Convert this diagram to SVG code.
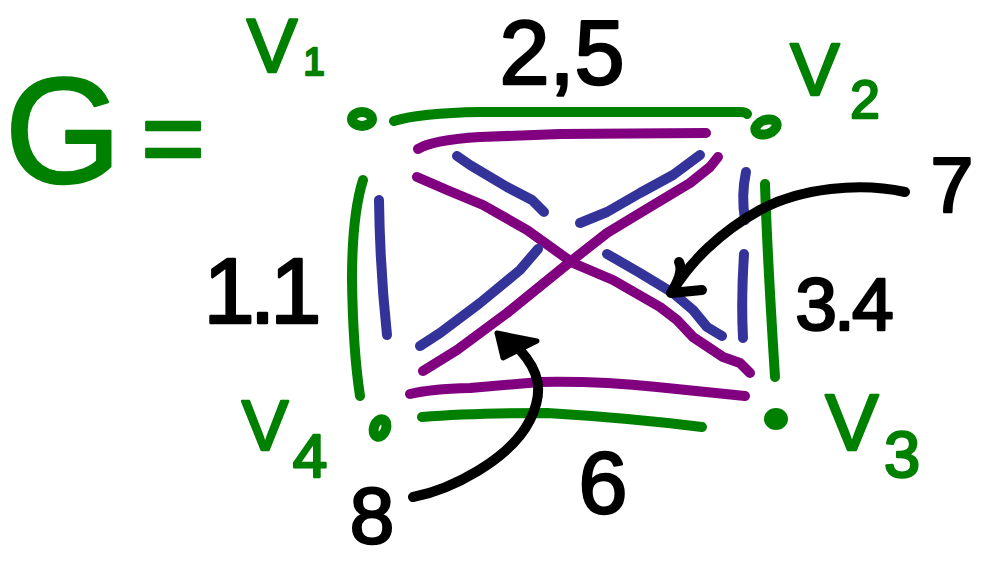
<svg xmlns="http://www.w3.org/2000/svg" width="986" height="561" viewBox="0 0 986 561">
<style>
.s{fill:none;stroke-width:10;stroke-linecap:round;stroke-linejoin:round}
.g{stroke:#008000}
.p{stroke:#800080}
.b{stroke:#333399}
.k{stroke:#000}
.t{font-family:"Liberation Sans",Arial,sans-serif;stroke-width:2.5;stroke-linejoin:round;text-anchor:middle}
.tg{fill:#008000;stroke:#008000}
.tk{fill:#000;stroke:#000}
</style>
<rect width="986" height="561" fill="#fff"/>
<g id="title">
<text class="t tg" x="63" y="183" font-size="150">G</text>
<text class="t tg" x="173" y="175" font-size="110">=</text>
</g>
<g id="connectors">
<path class="s g" d="M394,121 Q420,113 480,112 L740,112 Q746,112 747,114"/>
<path class="s p" d="M418,149 Q432,140 480,137 L560,134 L706,133"/>
<path class="s p" d="M410,394 Q430,389 470,388 L540,382 Q600,381 657,387 L745,396"/>
<path class="s g" d="M422,417 Q470,413 547,413 Q630,418 702,427"/>
<path class="s g" d="M363,180 Q352,215 352,280 Q353,350 360,396"/>
<path class="s b" d="M379,200 Q380,270 387,335"/>
<path class="s g" d="M765,184 Q767,250 775,377"/>
<path class="s b" d="M746,172 Q741,195 745,220"/>
<path class="s b" d="M744,254 Q741,300 743,338"/>
<polyline class="s p" points="417,177 447,190 483,205 527,230 573,263 613,280 660,307 677,320 693,337 723,357 740,363 750,373"/>
<polyline class="s b" points="457,156 470,165 507,187 532,200 544,212"/>
<polyline class="s b" points="607,254 640,273 673,293 693,310 707,327 722,336"/>
<polyline class="s p" points="423,371 457,350 507,313 570,262 607,233 640,213 690,183 710,167 718,157"/>
<polyline class="s b" points="420,346 440,333 480,303 520,270 538,249"/>
<polyline class="s b" points="580,223 607,212 640,193 673,175 700,155"/>
</g>
<g id="edge-labels">
<text class="t tk" x="562" y="84" font-size="90">2,5</text>
<text class="t tk" x="260" y="323" font-size="92" letter-spacing="-5">1.1</text>
<text class="t tk" x="843" y="330" font-size="75" letter-spacing="-3">3.4</text>
<text class="t tk" x="603" y="513" font-size="88">6</text>
</g>
<g id="annotation-7">
<path class="s k" d="M905,192 C860,182 800,188 760,210 C720,232 690,262 672,292"/>
<path class="s k" d="M679,262 Q684,272 671,293 L702,290"/>
<text class="t tk" x="952" y="212" font-size="77">7</text>
</g>
<g id="annotation-8">
<path class="s k" d="M413,497 C450,490 510,460 530,420 C545,390 538,370 520,350"/>
<polygon points="497,333 537,341 503,358" fill="#000" stroke="#000" stroke-width="5" stroke-linejoin="round"/>
<text class="t tk" x="372" y="543" font-size="80">8</text>
</g>
<g id="v1">
<ellipse class="s g" cx="362" cy="119" rx="10" ry="7"/>
<text class="t tg" x="272" y="72" font-size="76">V</text>
<text class="t tg" x="314" y="75" font-size="38">1</text>
</g>
<g id="v2">
<ellipse class="s g" cx="766" cy="127" rx="11" ry="7" transform="rotate(-20 766 127)"/>
<text class="t tg" x="815" y="95" font-size="74">V</text>
<text class="t tg" x="865" y="118" font-size="53">2</text>
</g>
<g id="v3">
<ellipse cx="776" cy="419" rx="12" ry="11" fill="#008000"/>
<text class="t tg" x="852" y="450" font-size="80">V</text>
<text class="t tg" x="902" y="477" font-size="65">3</text>
</g>
<g id="v4">
<ellipse class="s g" cx="380" cy="428" rx="6" ry="9" transform="rotate(20 380 428)" stroke-width="7"/>
<text class="t tg" x="265" y="450" font-size="70">V</text>
<text class="t tg" x="310" y="477" font-size="62">4</text>
</g>
</svg>
